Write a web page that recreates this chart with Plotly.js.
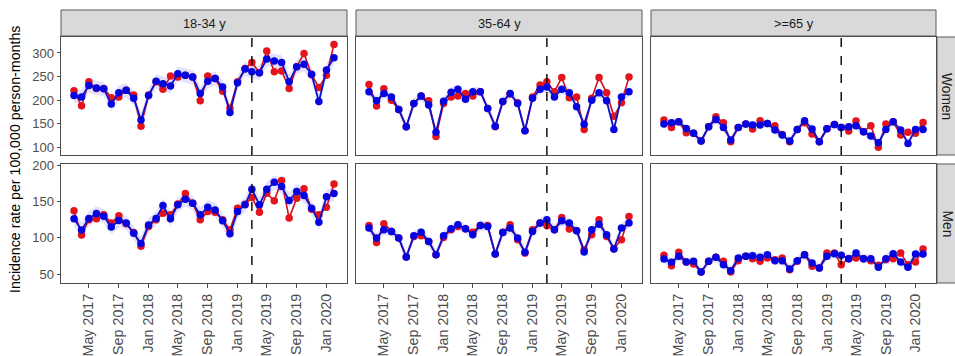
<!DOCTYPE html>
<html>
<head>
<meta charset="utf-8">
<script src="https://cdn.plot.ly/plotly-3.0.1.min.js"></script>
<style>html,body{margin:0;padding:0;background:#fff}#chart{width:955px;height:356px}</style>
</head>
<body>
<div id="chart"></div>
<script>
// ---------- DATA ----------
const months = ['2017-03-01','2017-04-01','2017-05-01','2017-06-01','2017-07-01','2017-08-01','2017-09-01','2017-10-01','2017-11-01','2017-12-01',
'2018-01-01','2018-02-01','2018-03-01','2018-04-01','2018-05-01','2018-06-01','2018-07-01','2018-08-01','2018-09-01','2018-10-01','2018-11-01','2018-12-01',
'2019-01-01','2019-02-01','2019-03-01','2019-04-01','2019-05-01','2019-06-01','2019-07-01','2019-08-01','2019-09-01','2019-10-01','2019-11-01','2019-12-01',
'2020-01-01','2020-02-01'];
const interventionDate = '2019-03-01';
const ageGroups = ['18-34 y','35-64 y','>=65 y'];
const sexes = ['Women','Men'];
const xTickVals = ['2017-05-01','2017-09-01','2018-01-01','2018-05-01','2018-09-01','2019-01-01','2019-05-01','2019-09-01','2020-01-01'];
const xTickText = ['May 2017','Sep 2017','Jan 2018','May 2018','Sep 2018','Jan 2019','May 2019','Sep 2019','Jan 2020'];
const yTicksWomen = [100,150,200,250,300];
const yTicksMen = [50,100,150,200];

const obsWomen1834 = [220,188,239,225,225,205,207,221,211,145,211,239,223,251,249,253,249,199,251,246,219,183,239,267,280,258,304,260,262,225,271,299,254,227,253,318];
const predWomen1834 = [210,207,231,226,224,192,216,221,204,158,210,240,235,230,256,253,249,214,240,246,228,174,237,266,260,258,287,283,280,239,271,276,255,197,264,290];
const obsMen1834 = [137.5,104,125,126.4,132,120.5,130.6,119.5,107.5,88.3,115.8,125,134.3,132,147,161.4,148,125,136.6,135.6,125,111.2,141.2,146.7,156,135.6,161.9,151.3,179.4,127.4,155,168,139.8,132,142.5,174.7];
const predMen1834 = [126.4,111,127,133.8,130,115,124,120.5,106.6,92.4,118,127,144.8,126.4,145.8,153.6,148,132,142.5,138.8,123.7,105.7,136.6,145.8,167.4,145.8,167.4,177,171,151.8,164.2,158.7,141.2,121.8,156.8,161.4];
const obsWomen3564 = [233,187.5,224,200,180.5,144,193,209,199,123,193,207,209,214,209,218,182.5,144,197,213,194.5,135.5,207,232,239,218,248,205,207,138,204,248,216,166,194.5,249];
const predWomen3564 = [218,199,214,207,180.5,144,193,209,190,132,198,217,223,202,218,218,182.5,145,197,214,193,135.5,204,223,228,207,223,216,186,149,200,216,199,138,207,218];
const obsMen3564 = [117.3,93.8,119.6,109,99.8,73.6,102,103,95.2,76.8,100.7,111.3,115.9,112.7,108,117.3,117.3,77.7,108,118.2,97.5,79,111.3,120.5,116.8,111.3,128.3,112.2,110,83.7,104.4,125,102,85,97.5,129.7];
const predMen3564 = [113.6,99.8,111.3,109,99.8,73.6,103,108,95.2,76.8,103,112.7,118.2,112.7,104.4,117.3,115.9,77.7,107.6,113.6,99.8,80,109,120.5,125.1,111.3,123.7,120.5,110,80.5,111.3,119,104.4,84.6,113.6,120.5];
const obsWomen65 = [158,142.4,154.4,131,129.8,113.6,143.8,165,152.3,112,142.4,149.5,139,156.5,150.9,146,127.6,112,138.2,152.3,128.4,112,139.6,148.8,142.4,134.7,155.8,133.3,146,100.2,149.5,154.4,126.2,131.9,129.8,153];
const predWomen65 = [149.5,152.3,154.4,140.3,129.8,113.6,143.8,159.4,142.4,115.7,142.4,149.5,147.4,147.4,150.9,136.8,126.2,113.6,138.2,156.5,139,112,139.6,148.8,142.4,143.8,146,133.3,124.1,110,138.2,154.4,136.8,108.6,138.2,138.2];
const obsMen65 = [75.9,61.6,80,66.7,63.9,52.9,67.6,73.1,67.6,52.9,68.5,74.5,71.3,67.6,72.2,69.9,72.2,56.1,67.6,76.8,60.7,58.4,79,79,63,71.3,72.2,71.3,68.5,62,69.9,71.3,79,63,66.7,84.6];
const predMen65 = [70.8,66.2,74.5,66.7,67.6,52.9,67.6,73.1,63,54.7,72.2,74.5,75.4,73.1,76.8,68.5,68.5,57,68.5,76.8,65.3,58.4,74.5,78,75.9,71.3,79,71.3,71.3,59.3,71.3,78.2,66.7,59.3,77.7,77.7];
// ribbon half-widths (per panel: W18-34, W35-64, W65+, M18-34, M35-64, M65+)
const ribbonHalfWidth = [15, 10, 8, 10, 7, 6];

// ---------- LAYOUT HELPERS ----------
const W = 955, H = 356;
const px = v => v / W;
const py = v => 1 - v / H;
const colPx = [[61, 347], [356, 642], [651, 936]];
const rowPx = [[37, 155], [164, 283]];
const stripTop = 10;
const rightStrip = [937, 955];
const yRanges = [[84, 333.8], [37.6, 202.3]];

const observedPanels = [[obsWomen1834, obsWomen3564, obsWomen65],[obsMen1834, obsMen3564, obsMen65]];
const predictedPanels = [[predWomen1834, predWomen3564, predWomen65],[predMen1834, predMen3564, predMen65]];

const t0 = new Date(months[0]).getTime(), t1 = new Date(months[months.length-1]).getTime();
const pad = 0.05 * (t1 - t0);
const xRange = [t0 - pad, t1 + pad];

const FONT = 'Liberation Sans, Arial, sans-serif';
const RED = '#E3141C', REDLINE = '#D0101E', BLUE = '#0505E0';

const traces = [];
const layout = {
  width: W, height: H, autosize: false,
  margin: {l: 0, r: 0, t: 0, b: 0},
  paper_bgcolor: '#fff', plot_bgcolor: '#fff',
  showlegend: false,
  font: {family: FONT, size: 13, color: '#4D4D4D'},
  shapes: [], annotations: []
};

let k = 0;
for (let r = 0; r < 2; r++) {
  for (let c = 0; c < 3; c++) {
    k++;
    const xa = 'x' + (k === 1 ? '' : k), ya = 'y' + (k === 1 ? '' : k);
    const xKey = 'xaxis' + (k === 1 ? '' : k), yKey = 'yaxis' + (k === 1 ? '' : k);
    const obs = observedPanels[r][c], pred = predictedPanels[r][c];
    const hw = ribbonHalfWidth[r * 3 + c];
    const upper = pred.map(v => v + hw), lower = pred.map(v => v - hw);
    traces.push({x: months, y: upper, xaxis: xa, yaxis: ya, mode: 'lines', line: {width: 0, color: 'rgba(0,0,0,0)'}, hoverinfo: 'skip'});
    traces.push({x: months, y: lower, xaxis: xa, yaxis: ya, mode: 'lines', line: {width: 0, color: 'rgba(0,0,0,0)'}, fill: 'tonexty', fillcolor: 'rgba(110,110,255,0.2)', hoverinfo: 'skip'});
    traces.push({x: months, y: obs, xaxis: xa, yaxis: ya, mode: 'lines+markers', line: {color: REDLINE, width: 1.6}, marker: {color: RED, size: 7.5}});
    traces.push({x: months, y: pred, xaxis: xa, yaxis: ya, mode: 'lines+markers', line: {color: '#1010C8', width: 1.8}, marker: {color: BLUE, size: 7.5}});

    const bottom = r === 1, left = c === 0;
    layout[xKey] = {
      type: 'date', domain: [px(colPx[c][0]), px(colPx[c][1])], range: xRange, anchor: ya,
      showgrid: false, zeroline: false, showline: true, mirror: true, linecolor: '#4D4D4D', linewidth: 1,
      tickvals: bottom ? xTickVals : [], ticktext: bottom ? xTickText : [],
      showticklabels: bottom, ticks: bottom ? 'outside' : '', ticklen: 4, tickcolor: '#4D4D4D',
      tickangle: -90, tickfont: {family: FONT, size: 14.3, color: '#4D4D4D'}
    };
    layout[yKey] = {
      domain: [py(rowPx[r][1]), py(rowPx[r][0])], range: yRanges[r], anchor: xa,
      showgrid: false, zeroline: false, showline: true, mirror: true, linecolor: '#4D4D4D', linewidth: 1,
      tickvals: left ? (r === 0 ? yTicksWomen : yTicksMen) : [],
      showticklabels: left, ticks: left ? 'outside' : '', ticklen: 3.5, tickcolor: '#4D4D4D',
      tickfont: {family: FONT, size: 13, color: '#4D4D4D'}
    };
    layout.shapes.push({type: 'line', xref: xa, yref: ya + ' domain', x0: interventionDate, x1: interventionDate, y0: 0, y1: 1,
      line: {color: '#000', width: 1.4, dash: 'dash'}});
  }
}

for (let c = 0; c < 3; c++) {
  layout.shapes.push({type: 'rect', xref: 'paper', yref: 'paper', x0: px(colPx[c][0]), x1: px(colPx[c][1]), y0: py(rowPx[0][0] - 1), y1: py(stripTop),
    fillcolor: '#D9D9D9', line: {color: '#5A5A5A', width: 1}, layer: 'below'});
  layout.annotations.push({xref: 'paper', yref: 'paper', x: px((colPx[c][0] + colPx[c][1]) / 2), y: py((stripTop + rowPx[0][0]) / 2),
    text: ageGroups[c], showarrow: false, font: {family: FONT, size: 12.8, color: '#1A1A1A'}, xanchor: 'center', yanchor: 'middle'});
}
for (let r = 0; r < 2; r++) {
  layout.shapes.push({type: 'rect', xref: 'paper', yref: 'paper', x0: px(rightStrip[0]), x1: px(rightStrip[1] + 2), y0: py(rowPx[r][1]), y1: py(rowPx[r][0]),
    fillcolor: '#D9D9D9', line: {color: '#5A5A5A', width: 1}, layer: 'below'});
  layout.annotations.push({xref: 'paper', yref: 'paper', x: px((rightStrip[0] + rightStrip[1]) / 2 + 1), y: py((rowPx[r][0] + rowPx[r][1]) / 2),
    text: sexes[r], textangle: 90, showarrow: false, font: {family: FONT, size: 13.8, color: '#1A1A1A'}, xanchor: 'center', yanchor: 'middle'});
}
layout.annotations.push({xref: 'paper', yref: 'paper', x: px(15), y: py((rowPx[0][0] + rowPx[1][1]) / 2),
  text: 'Incidence rate per 100,000 person-months', textangle: -90, showarrow: false,
  font: {family: FONT, size: 14.2, color: '#000'}, xanchor: 'center', yanchor: 'middle'});

Plotly.newPlot('chart', traces, layout, {staticPlot: true, displayModeBar: false});
</script>
</body>
</html>
